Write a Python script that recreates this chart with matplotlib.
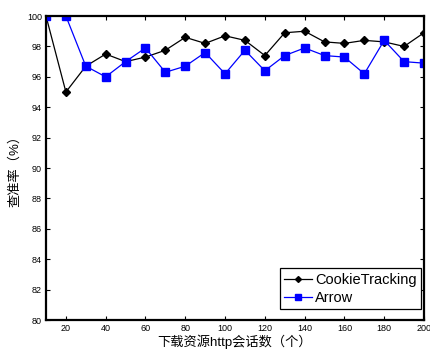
import matplotlib
matplotlib.use("Agg")
import matplotlib.pyplot as plt

x = [10, 20, 30, 40, 50, 60, 70, 80, 90, 100, 110, 120, 130, 140, 150, 160, 170, 180, 190, 200]
cookie = [100, 95.0, 96.7, 97.5, 97.0, 97.3, 97.75, 98.6, 98.2, 98.7, 98.4, 97.4, 98.9, 99.0, 98.3, 98.2, 98.4, 98.3, 98.0, 98.9]
arrow = [100, 100, 96.7, 96.0, 97.0, 97.9, 96.3, 96.7, 97.6, 96.2, 97.75, 96.4, 97.4, 97.9, 97.4, 97.3, 96.2, 98.4, 97.0, 96.9]
xticks = [20, 40, 60, 80, 100, 120, 140, 160, 180, 200]
yticks = [80, 82, 84, 86, 88, 90, 92, 94, 96, 98, 100]

plt.rcParams['font.family'] = ['Liberation Sans', 'Noto Sans CJK SC', 'DejaVu Sans']

fig = plt.figure(figsize=(4.3, 3.51), dpi=100)
ax = fig.add_axes([0.107, 0.0883, 0.879, 0.866])

ax.plot(x, cookie, color='black', marker='D', markersize=4, linewidth=0.9, label='CookieTracking')
ax.plot(x, arrow, color='blue', marker='s', markersize=5.5, linewidth=0.9, label='Arrow')

ax.set_xlim(10, 200)
ax.set_ylim(80, 100)
ax.set_xticks(xticks)
ax.set_yticks(yticks)
ax.tick_params(direction='in', top=True, right=True, labelsize=6.5, length=3, width=0.8, pad=3)
for s in ax.spines.values():
    s.set_linewidth(1.6)

ax.set_xlabel('下载资源http会话数（个）', fontsize=9.5, labelpad=1)
ax.set_ylabel('查准率（%）', fontsize=9.5, labelpad=4)

leg = ax.legend(loc='lower right', bbox_to_anchor=(0.993, 0.035), fontsize=10.5, fancybox=False,
                framealpha=1, edgecolor='black', borderaxespad=0.0, handlelength=1.9,
                borderpad=0.3, labelspacing=0.3, handletextpad=0.25, markerscale=0.75)
leg.get_frame().set_linewidth(0.9)

fig.savefig('out.png', dpi=100)
